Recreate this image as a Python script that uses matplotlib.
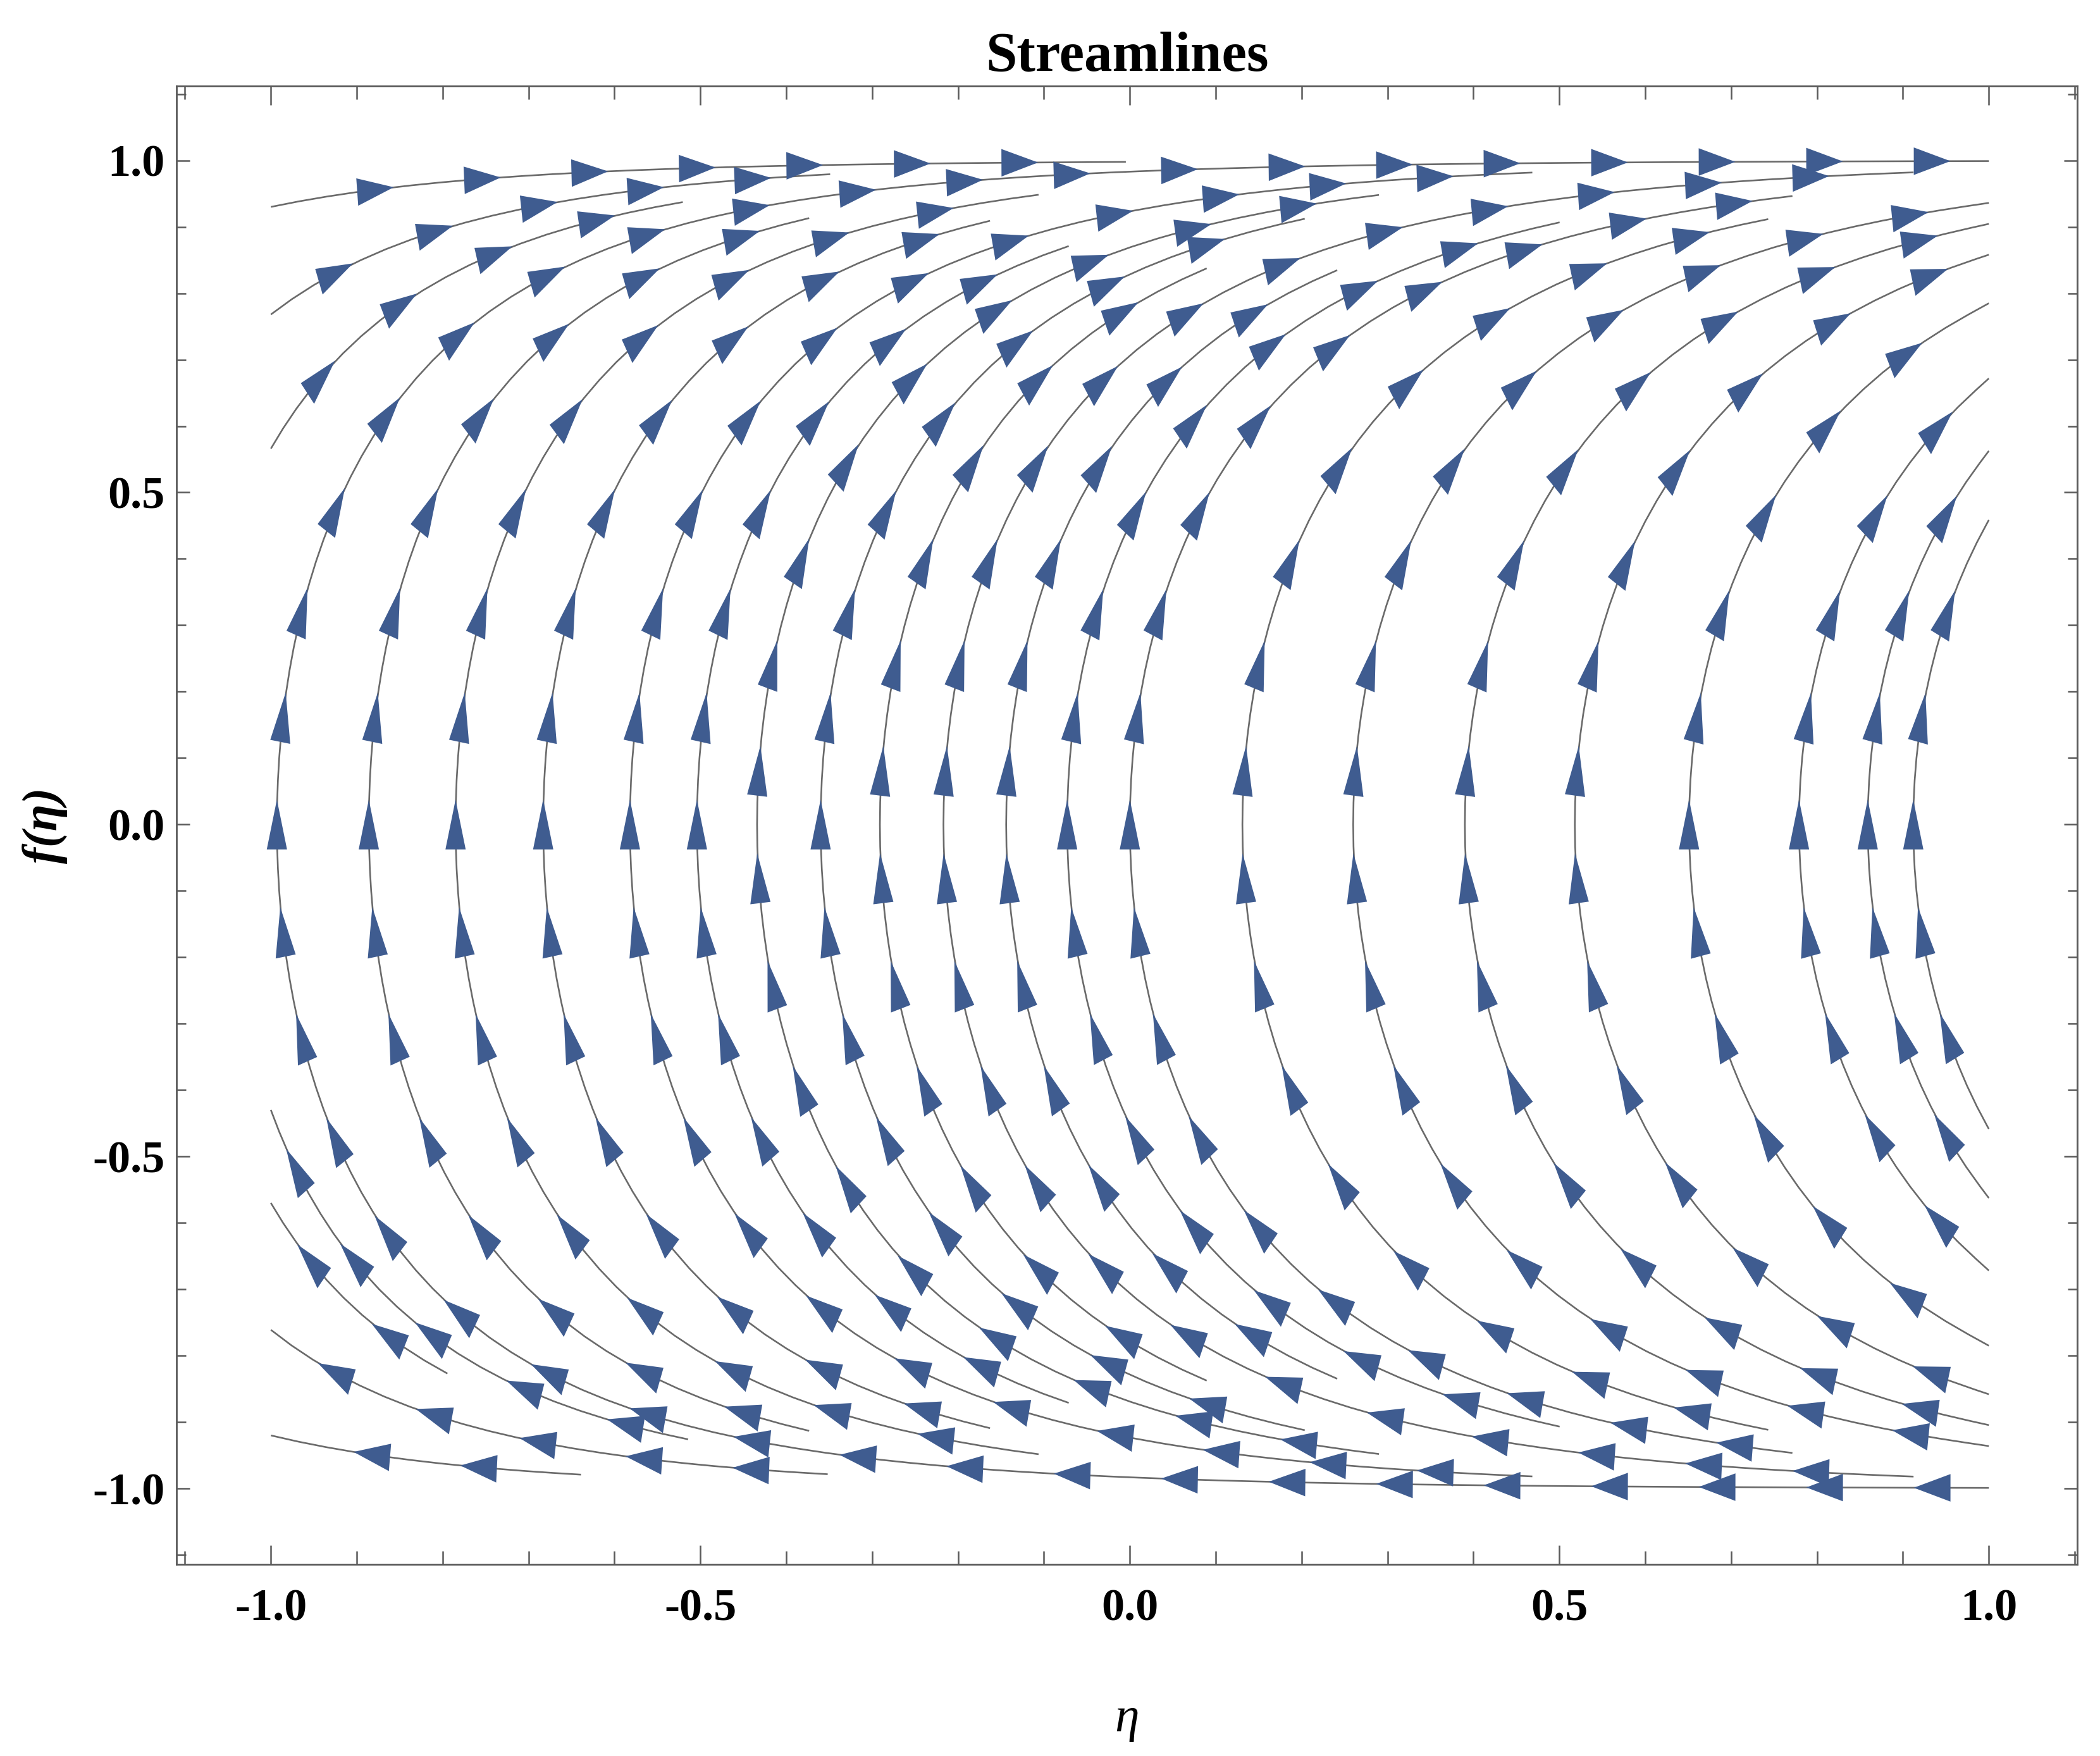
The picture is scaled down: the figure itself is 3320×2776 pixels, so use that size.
import numpy as np
import matplotlib
matplotlib.use("Agg")
import matplotlib.pyplot as plt
from matplotlib.patches import Polygon
from matplotlib.ticker import FixedLocator, FixedFormatter

plt.rcParams['font.family'] = ['Liberation Serif', 'DejaVu Serif']
plt.rcParams['axes.unicode_minus'] = False

# where the arcs cross f = 0
vertex_eta = [-0.993, -0.886, -0.785, -0.683, -0.582, -0.504, -0.434, -0.360,
              -0.291, -0.217, -0.144, -0.073, 0.000, 0.131, 0.260, 0.390,
              0.518, 0.651, 0.779, 0.859, 0.912]
# outer lines that start on the left edge eta = -1
edge_f = [0.930, 0.768, 0.566, -0.430, -0.570, -0.761, -0.920]

# arc curvature, fitted by eye:  d(eta)/df = 2*(c0 + c1*eta)*f / (1 - f^2)
curv_c0 = 0.32
curv_c1 = 0.055

major_ticks = [-1.0, -0.5, 0.0, 0.5, 1.0]
major_labels = ['-1.0', '-0.5', '0.0', '0.5', '1.0']
minor_ticks = [-1.1, -0.9, -0.8, -0.7, -0.6, -0.4, -0.3, -0.2, -0.1,
               0.1, 0.2, 0.3, 0.4, 0.6, 0.7, 0.8, 0.9, 1.1]

line_color = '#6a6a6a'
arrow_color = '#3f5c90'
frame_color = '#5a5a5a'

# picture is squeezed sideways, arrows look taller than wide
stretch_y = 1.36
head_len = 58.0   # px
head_w = 32.0     # px
arrow_gap = 170.0  # px between arrows along a line


def join_segments(segs):
    lines = []
    for seg in segs:
        seg = np.asarray(seg)
        if lines and np.allclose(lines[-1][-1][-1], seg[0]):
            lines[-1].append(seg[1:])
        else:
            lines.append([seg])
    return [np.vstack(l) for l in lines]


fig = plt.figure(figsize=(16.6, 13.88), dpi=200)
ax = fig.add_axes([0.084, 0.1092, 0.9052, 0.8418])

eta = np.linspace(-1, 1, 201)
ff = np.linspace(-1, 1, 201)
E, F = np.meshgrid(eta, ff)
U = 2 * (curv_c0 + curv_c1 * E) * F
V = 1 - F ** 2

seeds = [(x, 0.0) for x in vertex_eta] + [(-1.0, y) for y in edge_f]
sp = ax.streamplot(eta, ff, U, V, start_points=seeds, density=2.0,
                   color=line_color, linewidth=0.95, arrowsize=0.1,
                   minlength=0.02, maxlength=10.0)
# drop the built-in arrows, they get drawn below
for p in list(ax.patches):
    p.remove()

ax.set_xlim(-1.11, 1.103)
ax.set_ylim(-1.114, 1.112)

to_data = ax.transData.inverted()
for line in join_segments(sp.lines.get_segments()):
    pts = ax.transData.transform(line)
    d = np.diff(pts, axis=0)
    s = np.concatenate([[0.0], np.cumsum(np.hypot(d[:, 0], d[:, 1]))])
    total = s[-1]
    n = int(total // arrow_gap)
    if n == 0:
        if total < 2 * head_len:
            continue
        n = 1
    start = (total - (n - 1) * arrow_gap) / 2
    for k in range(n):
        pos = start + k * arrow_gap
        px = np.interp(pos, s, pts[:, 0])
        py = np.interp(pos, s, pts[:, 1])
        tx = np.interp(pos + 8, s, pts[:, 0]) - np.interp(pos - 8, s, pts[:, 0])
        ty = np.interp(pos + 8, s, pts[:, 1]) - np.interp(pos - 8, s, pts[:, 1])
        u = np.array([tx, ty / stretch_y])
        if np.hypot(*u) == 0:
            continue
        u = u / np.hypot(*u)
        perp = np.array([-u[1], u[0]])
        tri = np.array([0.5 * head_len * u,
                        -0.5 * head_len * u + 0.5 * head_w * perp,
                        -0.5 * head_len * u - 0.5 * head_w * perp])
        tri[:, 1] *= stretch_y
        tri += [px, py]
        ax.add_patch(Polygon(to_data.transform(tri), closed=True,
                             facecolor=arrow_color, edgecolor='none', zorder=3))

# frame and ticks
for side in ax.spines.values():
    side.set_color(frame_color)
    side.set_linewidth(1.0)

for axis in (ax.xaxis, ax.yaxis):
    axis.set_major_locator(FixedLocator(major_ticks))
    axis.set_major_formatter(FixedFormatter(major_labels))
    axis.set_minor_locator(FixedLocator(minor_ticks))

ax.tick_params(axis='x', which='major', direction='in', length=10.8, width=0.9,
               top=True, bottom=True, pad=14, labelsize=26, color=frame_color)
ax.tick_params(axis='x', which='minor', direction='in', length=7.6, width=0.9,
               top=True, bottom=True, color=frame_color)
ax.tick_params(axis='y', which='major', direction='in', length=7.6, width=0.9,
               left=True, right=True, pad=6.5, labelsize=26, color=frame_color)
ax.tick_params(axis='y', which='minor', direction='in', length=5.4, width=0.9,
               left=True, right=True, color=frame_color)
for lab in ax.get_xticklabels() + ax.get_yticklabels():
    lab.set_fontweight('bold')

ax.set_title('Streamlines', fontsize=32, fontweight='bold', pad=9)
ax.set_xlabel('η', fontsize=28, style='italic', va='center')
ax.xaxis.set_label_coords(0.5, -0.1048)
ax.set_ylabel('f(η)', fontsize=28, style='italic', fontweight='bold', va='center')
ax.yaxis.set_label_coords(-0.069, 0.5)

fig.savefig('out.png', dpi=200)
